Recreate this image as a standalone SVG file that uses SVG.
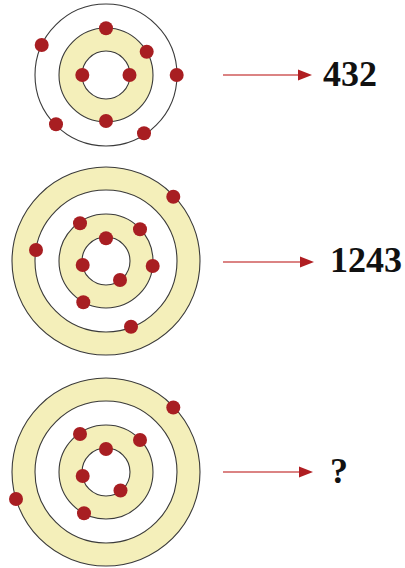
<svg xmlns="http://www.w3.org/2000/svg" width="405" height="568" viewBox="0 0 405 568">
<style>
.ring{stroke:#3a3a3a;stroke-width:1.1}
.y{fill:#F4EFBA}
.w{fill:#ffffff}
.dot{fill:#A81E22}
.lbl{font-family:"Liberation Serif","Times New Roman",serif;font-weight:bold;font-size:36px;fill:#111}
.arr{stroke:#CF5A5A;stroke-width:1.6;fill:none}
.head{fill:#B01E22}
</style>
<rect width="405" height="568" fill="#ffffff"/>
<g id="atom1">
<circle class="ring w" cx="106" cy="75" r="71"/>
<circle class="ring y" cx="106" cy="75" r="47"/>
<circle class="ring w" cx="106" cy="75" r="24"/>
<g class="dot">
<circle cx="106" cy="28.3" r="7"/>
<circle cx="146.7" cy="51.7" r="7"/>
<circle cx="41.7" cy="45" r="7"/>
<circle cx="82.3" cy="75" r="7"/>
<circle cx="129.5" cy="75" r="7"/>
<circle cx="176.7" cy="75" r="7"/>
<circle cx="106" cy="121" r="7"/>
<circle cx="56" cy="124.3" r="7"/>
<circle cx="144" cy="133.3" r="7"/>
</g>
</g>
<g id="atom2">
<circle class="ring y" cx="106" cy="261" r="94"/>
<circle class="ring w" cx="106" cy="261" r="71"/>
<circle class="ring y" cx="106" cy="261" r="47"/>
<circle class="ring w" cx="106" cy="261" r="24"/>
<g class="dot">
<circle cx="173.3" cy="196.7" r="7"/>
<circle cx="80" cy="223.3" r="7"/>
<circle cx="140" cy="229.3" r="7"/>
<circle cx="106" cy="238.3" r="7"/>
<circle cx="36" cy="250" r="7"/>
<circle cx="82.7" cy="265" r="7"/>
<circle cx="152.7" cy="266" r="7"/>
<circle cx="120" cy="280" r="7"/>
<circle cx="83.3" cy="302.3" r="7"/>
<circle cx="131" cy="326.7" r="7"/>
</g>
</g>
<g id="atom3">
<circle class="ring y" cx="106" cy="472" r="94"/>
<circle class="ring w" cx="106" cy="472" r="71"/>
<circle class="ring y" cx="106" cy="472" r="47"/>
<circle class="ring w" cx="106" cy="472" r="24"/>
<g class="dot">
<circle cx="173.3" cy="407.5" r="7"/>
<circle cx="80" cy="434" r="7"/>
<circle cx="140" cy="440" r="7"/>
<circle cx="106" cy="449" r="7"/>
<circle cx="82.7" cy="476" r="7"/>
<circle cx="120.5" cy="490.5" r="7"/>
<circle cx="16" cy="499" r="7"/>
<circle cx="84" cy="513.3" r="7"/>
</g>
</g>
<g id="connectors">
<line class="arr" x1="223" y1="75" x2="300" y2="75"/>
<polygon class="head" points="298,69.5 312,75 298,80.5"/>
<line class="arr" x1="223" y1="262" x2="302" y2="262"/>
<polygon class="head" points="300,256.5 314,262 300,267.5"/>
<line class="arr" x1="223" y1="472" x2="301" y2="472"/>
<polygon class="head" points="299,466.5 313,472 299,477.5"/>
</g>
<g id="label1"><text class="lbl" x="323" y="86">432</text></g>
<g id="label2"><text class="lbl" x="330" y="272">1243</text></g>
<g id="label3"><text class="lbl" x="330" y="483">?</text></g>
</svg>
